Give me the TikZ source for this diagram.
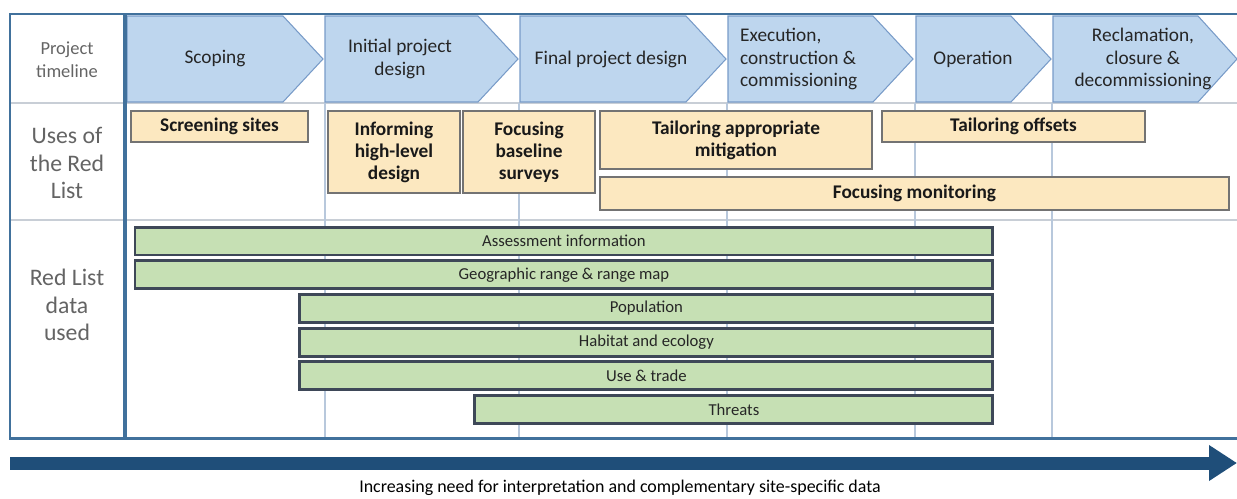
\documentclass[tikz,border=0pt]{standalone}
\usepackage{xcolor}
\usepackage{fontspec}
\setmainfont{Carlito}
\usepackage{tikz}
\usetikzlibrary{shapes,arrows.meta,positioning}

\definecolor{frameblue}{RGB}{65,113,156}
\definecolor{gridblue}{RGB}{184,200,220}
\definecolor{rowgray}{RGB}{200,206,214}
\definecolor{phasefill}{RGB}{190,214,238}
\definecolor{phaseline}{RGB}{120,155,200}
\definecolor{usefill}{RGB}{252,232,192}
\definecolor{usedraw}{RGB}{115,115,115}
\definecolor{datafill}{RGB}{198,224,180}
\definecolor{datadraw}{RGB}{62,72,88}
\definecolor{arrowblue}{RGB}{31,78,121}
\definecolor{labelgray}{RGB}{100,100,100}

\begin{document}
\begin{tikzpicture}[x=0.02cm, y=-0.02cm, node distance=0.114cm, font=\fontsize{11}{13}\selectfont]
    % Define styles
    \tikzstyle{phase} = [draw=phaseline, fill=phasefill, line width=0.6pt]
    \tikzstyle{phasetext} = [align=center, text=black!85]
    \tikzstyle{rowlabel} = [align=center, text=labelgray, font=\fontsize{13.5}{15.5}\selectfont]
    \tikzstyle{usebox} = [rectangle, draw=usedraw, fill=usefill, line width=1.5pt, align=center, text=black!90, font=\fontsize{11}{12.5}\selectfont\bfseries, anchor=north west, inner sep=0pt, outer sep=0pt]
    \tikzstyle{databox} = [rectangle, draw=datadraw, fill=datafill, line width=1.7pt, minimum height=0.56cm, text=black!85, font=\fontsize{9.5}{11}\selectfont, inner sep=0pt, outer sep=0pt]
    \tikzstyle{frame} = [frameblue, line width=1.7pt]

    \useasboundingbox (0,0) rectangle (1237,498);

    % Table grid
    \draw [rowgray, line width=1pt] (10,103) -- (1237,103) (10,220) -- (1237,220);
    \draw [gridblue, line width=0.6pt] (325,103) -- (325,438) (519,103) -- (519,438)
        (727,103) -- (727,438) (915,103) -- (915,438) (1052,103) -- (1052,438);

    % Project timeline
    \draw [phase] (127,16) -- (283,16) -- (323,59) -- (283,102) -- (127,102) -- cycle;
    \draw [phase] (325,16) -- (478,16) -- (518,59) -- (478,102) -- (325,102) -- cycle;
    \draw [phase] (520,16) -- (686,16) -- (726,59) -- (686,102) -- (520,102) -- cycle;
    \draw [phase] (728,16) -- (873,16) -- (913,59) -- (873,102) -- (728,102) -- cycle;
    \draw [phase] (916,16) -- (1011,16) -- (1051,59) -- (1011,102) -- (916,102) -- cycle;
    \draw [phase] (1053,16) -- (1198,16) -- (1237,59) -- (1198,102) -- (1053,102) -- cycle;

    \node [phasetext] (scoping) at (215,59) {Scoping};
    \node [phasetext] (initial) at (400,59) {Initial project\\design};
    \node [phasetext] (final) at (611,59) {Final project design};
    \node [phasetext, align=left, anchor=west] (execution) at (734,59) {Execution,\\construction \&\\commissioning};
    \node [phasetext] (operation) at (973,59) {Operation};
    \node [phasetext] (reclamation) at (1143,59) {Reclamation,\\closure \&\\decommissioning};

    % Row labels
    \node [rowlabel, font=\fontsize{10.5}{13}\selectfont] (timelinelbl) at (67,60) {Project\\timeline};
    \node [rowlabel] (useslbl) at (67,163) {Uses of\\the Red\\List};
    \node [rowlabel] (datalbl) at (67,305) {Red List\\data\\used};

    % Uses of the Red List
    \node [usebox, minimum width=3.54cm, minimum height=0.62cm] (screening) at (131,111) {Screening sites};
    \node [usebox, minimum width=2.64cm, minimum height=1.64cm] (informing) at (328,111) {Informing\\high-level\\design};
    \node [usebox, minimum width=2.64cm, minimum height=1.64cm] (baseline) at (463,111) {Focusing\\baseline\\surveys};
    \node [usebox, minimum width=5.44cm, minimum height=1.16cm] (mitigation) at (600,111) {Tailoring appropriate\\mitigation};
    \node [usebox, minimum width=5.26cm, minimum height=0.62cm] (offsets) at (882,111) {Tailoring offsets};
    \node [usebox, minimum width=12.58cm, minimum height=0.66cm] (monitoring) at (600,177) {Focusing monitoring};

    % Red List data used
    \node [databox, minimum width=17.16cm, anchor=north west] (assess) at (135,227) {Assessment information};
    \node [databox, minimum width=17.16cm, below=of assess] (georange) {Geographic range \& range map};
    \node [databox, minimum width=13.86cm, below=of georange.south east, anchor=north east] (population) {Population};
    \node [databox, minimum width=13.86cm, below=of population] (habitat) {Habitat and ecology};
    \node [databox, minimum width=13.86cm, below=of habitat] (usetrade) {Use \& trade};
    \node [databox, minimum width=10.36cm, below=of usetrade.south east, anchor=north east] (threats) {Threats};

    % Frame
    \draw [frame] (1237,14) -- (10,14) -- (10,438) -- (1237,438);
    \draw [frame, line width=2pt] (125,14) -- (125,438);

    % Bottom arrow
    \coordinate (arrowstart) at (10,463);
    \coordinate (arrowend) at (1237,463);
    \draw [arrowblue, line width=0.26cm, -{Triangle[length=0.56cm, width=0.68cm]}] (arrowstart) -- (arrowend);
    \node [font=\fontsize{10.2}{12}\selectfont] (needlbl) at (620,488) {Increasing need for interpretation and complementary site-specific data};
\end{tikzpicture}
\end{document}
